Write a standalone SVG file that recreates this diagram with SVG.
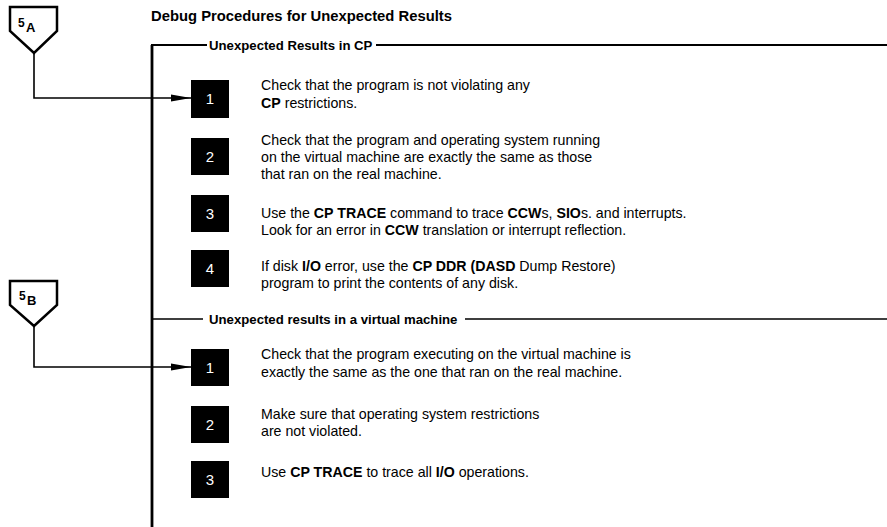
<svg xmlns="http://www.w3.org/2000/svg" width="887" height="527" viewBox="0 0 887 527">
<defs>
<style>
text{font-family:"Liberation Sans",Arial,Helvetica,sans-serif;fill:#000}
.title{font-size:14.8px;font-weight:bold}
.hdr{font-size:13.2px;font-weight:bold}
.body{font-size:14.2px}
.b{font-weight:bold}
.num{font-size:15px;fill:#fff;text-anchor:middle}
.box{fill:#000}
.pent{fill:#fff;stroke:#000;stroke-width:2.5;stroke-linejoin:miter}
.conn{fill:none;stroke:#000;stroke-width:1.6}
.rule{fill:none;stroke:#000}
.pl{font-size:12px;font-weight:bold}
.ps{font-size:13px;font-weight:bold}
</style>
<marker id="arr" viewBox="0 0 20 8" refX="20" refY="4" markerWidth="20" markerHeight="8" markerUnits="userSpaceOnUse" orient="auto">
<path d="M0,0.5 L20,4 L0,7.5 Z" fill="#000"/>
</marker>
</defs>
<rect width="887" height="527" fill="#fff"/>

<text class="title" x="151" y="21">Debug Procedures for Unexpected Results</text>

<g id="frame">
<path class="rule" d="M152,527 V45" stroke-width="2.8"/>
<path class="rule" d="M151,45 H207 M376,45 H887" stroke-width="2.2"/>
<path class="rule" d="M152,319 H203 M465,319 H887" stroke-width="1.6"/>
<text class="hdr" x="209" y="50">Unexpected Results in CP</text>
<text class="hdr" x="209" y="324">Unexpected results in a virtual machine</text>
</g>

<g id="conn">
<path class="conn" d="M34,53 V98 H191" marker-end="url(#arr)"/>
<path class="conn" d="M34,326 V367 H191" marker-end="url(#arr)"/>
</g>

<g id="p5A">
<path class="pent" d="M10,7 H57 V31 L34,53 L10,31 Z"/>
<text class="pl" x="18" y="27">5</text><text class="ps" x="26" y="32">A</text>
</g>
<g id="p5B">
<path class="pent" d="M10,281 H57 V305 L34,326 L10,305 Z"/>
<text class="pl" x="19" y="300">5</text><text class="ps" x="27" y="305">B</text>
</g>

<g id="s1i1">
<rect class="box" x="191" y="80" width="38" height="38"/>
<text class="num" x="210" y="104">1</text>
<text class="body" x="261" y="90">Check that the program is not violating any</text>
<text class="body" x="261" y="108"><tspan class="b">CP</tspan> restrictions.</text>
</g>
<g id="s1i2">
<rect class="box" x="191" y="138" width="38" height="37"/>
<text class="num" x="210" y="162">2</text>
<text class="body" x="261" y="145">Check that the program and operating system running</text>
<text class="body" x="261" y="162">on the virtual machine are exactly the same as those</text>
<text class="body" x="261" y="179">that ran on the real machine.</text>
</g>
<g id="s1i3">
<rect class="box" x="191" y="195" width="38" height="37"/>
<text class="num" x="210" y="219">3</text>
<text class="body" x="261" y="218">Use the <tspan class="b">CP TRACE</tspan> command to trace <tspan class="b">CCW</tspan>s, <tspan class="b">SIO</tspan>s. and interrupts.</text>
<text class="body" x="261" y="235">Look for an error in <tspan class="b">CCW</tspan> translation or interrupt reflection.</text>
</g>
<g id="s1i4">
<rect class="box" x="191" y="250" width="38" height="37"/>
<text class="num" x="210" y="274">4</text>
<text class="body" x="261" y="271">If disk <tspan class="b">I/O</tspan> error, use the <tspan class="b">CP DDR (DASD</tspan> Dump Restore)</text>
<text class="body" x="261" y="288">program to print the contents of any disk.</text>
</g>

<g id="s2i1">
<rect class="box" x="191" y="349" width="38" height="37"/>
<text class="num" x="210" y="373">1</text>
<text class="body" x="261" y="359">Check that the program executing on the virtual machine is</text>
<text class="body" x="261" y="377">exactly the same as the one that ran on the real machine.</text>
</g>
<g id="s2i2">
<rect class="box" x="191" y="406" width="38" height="37"/>
<text class="num" x="210" y="430">2</text>
<text class="body" x="261" y="419">Make sure that operating system restrictions</text>
<text class="body" x="261" y="436">are not violated.</text>
</g>
<g id="s2i3">
<rect class="box" x="191" y="461" width="38" height="37"/>
<text class="num" x="210" y="485">3</text>
<text class="body" x="261" y="477">Use <tspan class="b">CP TRACE</tspan> to trace all <tspan class="b">I/O</tspan> operations.</text>
</g>
</svg>
